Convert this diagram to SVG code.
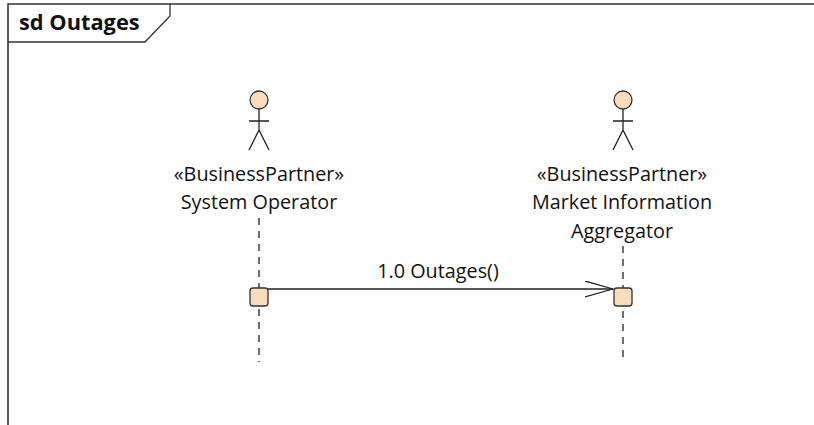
<svg xmlns="http://www.w3.org/2000/svg" width="814" height="425" viewBox="0 0 814 425">
<style>
text{font-family:"Open Sans","Noto Sans","DejaVu Sans",sans-serif;fill:#111}
.lbl{font-size:19.8px;text-anchor:middle}
.actor{fill:none;stroke:#222;stroke-width:1.3}
.head{fill:#f8dcbb;stroke:#333;stroke-width:1.3}
.life{stroke:#222;stroke-width:1.3;stroke-dasharray:7,6;fill:none}
.act{fill:#f8dcbb;stroke:#333;stroke-width:1.3}
</style>
<defs>
<marker id="open" markerWidth="30" markerHeight="20" refX="28" refY="8" orient="auto" markerUnits="userSpaceOnUse">
<path d="M0,0 L28,8 L0,16" fill="none" stroke="#222" stroke-width="1.3"/>
</marker>
</defs>
<rect width="814" height="425" fill="#fff"/>
<g id="frame">
<path d="M8,425 L8,4 L814,4" fill="none" stroke="#333" stroke-width="1.6"/>
<path d="M8,42 L145,42 L170,16 L170,4" fill="none" stroke="#333" stroke-width="1.3"/>
<text x="19" y="29.5" style="font-size:21.8px;font-weight:bold">sd Outages</text>
</g>
<g id="connectors">
<line class="life" x1="259" y1="218" x2="259" y2="362"/>
<line class="life" x1="623" y1="246" x2="623" y2="362"/>
<line x1="268" y1="289" x2="613" y2="289" stroke="#222" stroke-width="1.3" marker-end="url(#open)"/>
<text class="lbl" x="438" y="278">1.0 Outages()</text>
</g>
<g id="systemOperator">
<circle class="head" cx="259" cy="100" r="9"/>
<path class="actor" d="M259,109 V130 M249,121 H269 M249,150 L259,130 L269,150"/>
<text class="lbl" x="259" y="181">«BusinessPartner»</text>
<text class="lbl" x="259" y="209">System Operator</text>
<rect class="act" x="250" y="288" width="18" height="18" rx="3"/>
</g>
<g id="marketInformationAggregator">
<circle class="head" cx="623" cy="100" r="9"/>
<path class="actor" d="M623,109 V130 M613,121 H633 M613,150 L623,130 L633,150"/>
<text class="lbl" x="622" y="181">«BusinessPartner»</text>
<text class="lbl" x="622" y="209">Market Information</text>
<text class="lbl" x="622" y="238">Aggregator</text>
<rect class="act" x="614" y="288" width="18" height="18" rx="3"/>
</g>
</svg>
